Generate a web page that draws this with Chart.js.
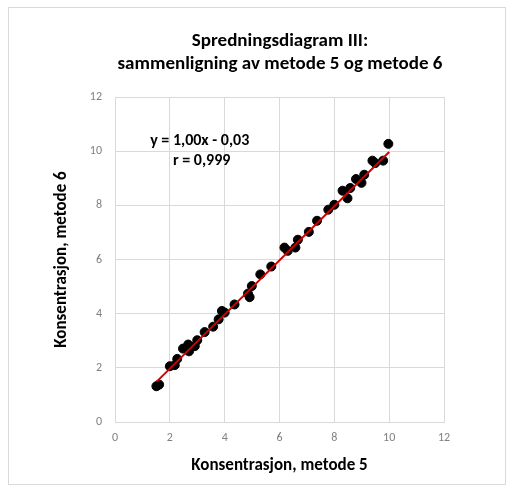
<!DOCTYPE html>
<html>
<head>
<meta charset="utf-8">
<script src="https://cdn.jsdelivr.net/npm/chart.js@4"></script>
<style>
html,body{margin:0;padding:0;background:#fff;}
#wrap{position:relative;width:511px;height:491px;}
#frame{position:absolute;left:8px;top:7px;width:496px;height:476px;border:1px solid #d9d9d9;pointer-events:none;}
</style>
</head>
<body>
<div id="wrap">
<canvas id="c" width="511" height="491"></canvas>
<div id="frame"></div>
</div>
<script>
const titleLines = ["Spredningsdiagram III:", "sammenligning av metode 5 og metode 6"];
const xTitle = "Konsentrasjon, metode 5";
const yTitle = "Konsentrasjon, metode 6";
const eqLines = ["y = 1,00x - 0,03", "r = 0,999"];
const metode5 = [1.51,1.61,2.00,2.18,2.27,2.48,2.67,2.70,2.91,3.00,3.27,3.58,3.78,3.90,4.00,4.36,4.85,4.91,4.99,5.30,5.70,6.18,6.30,6.58,6.67,7.07,7.37,7.78,8.00,8.30,8.48,8.58,8.79,8.99,9.09,9.39,9.49,9.78,9.97];
const metode6 = [1.32,1.38,2.06,2.10,2.33,2.71,2.86,2.61,2.80,3.02,3.32,3.52,3.79,4.10,4.04,4.34,4.74,4.61,5.02,5.45,5.74,6.44,6.32,6.44,6.73,7.02,7.43,7.84,8.02,8.54,8.26,8.64,8.97,8.83,9.13,9.65,9.56,9.65,10.27];
const fitSlope = 1.00, fitIntercept = -0.03;
const fitX = [1.52, 10.0];
const xTicks = [0,2,4,6,8,10,12];
const yTicks = [0,2,4,6,8,10,12];

const points = metode5.map((x,i)=>({x:x,y:metode6[i]}));
const fitLine = fitX.map(x=>({x:x,y:fitSlope*x+fitIntercept}));

const FONT = "Calibri, Carlito, Lato, 'Open Sans', sans-serif";

const textPlugin = {
  id:'textPlugin',
  afterDraw(chart){
    const ctx = chart.ctx;
    ctx.save();
    ctx.fillStyle = '#000';
    ctx.textAlign = 'center';
    ctx.textBaseline = 'middle';
    ctx.font = "bold 19px " + FONT;
    ctx.fillText(titleLines[0], 280, 41);
    ctx.fillText(titleLines[1], 280, 64);
    const xs = chart.scales.x, ys = chart.scales.y;
    ctx.font = "bold 16px " + FONT;
    ctx.fillText(eqLines[0], xs.getPixelForValue(3.09), ys.getPixelForValue(10.38));
    ctx.fillText(eqLines[1], xs.getPixelForValue(3.16), ys.getPixelForValue(9.64));
    ctx.restore();
  }
};

new Chart(document.getElementById('c'), {
  type:'scatter',
  data:{
    datasets:[
      {label:'data', data:points, backgroundColor:'#000', borderColor:'#000', pointRadius:4.5, pointHoverRadius:4.5, order:2},
      {label:'fit', type:'line', data:fitLine, borderColor:'#d00000', borderWidth:2, pointRadius:0, fill:false, order:1}
    ]
  },
  options:{
    responsive:false,
    animation:false,
    events:[],
    layout:{padding:{left:0,top:97,right:67,bottom:0}},
    plugins:{legend:{display:false},tooltip:{enabled:false},title:{display:false}},
    scales:{
      x:{
        type:'linear', min:0, max:12,
        afterBuildTicks(s){ s.ticks = xTicks.map(v=>({value:v})); },
        afterFit(s){ s.height = 69; },
        grid:{color:'#d9d9d9', lineWidth:1, drawTicks:false},
        border:{color:'#d9d9d9'},
        ticks:{color:'#808080', font:{size:12, family:FONT}, padding:9},
        title:{display:true, text:xTitle, color:'#000', font:{size:17, weight:'bold', family:FONT}, padding:{top:0,bottom:15}}
      },
      y:{
        type:'linear', min:0, max:12,
        afterBuildTicks(s){ s.ticks = yTicks.map(v=>({value:v})); },
        afterFit(s){ s.width = 115; },
        grid:{color:'#d9d9d9', lineWidth:1, drawTicks:false},
        border:{color:'#d9d9d9'},
        ticks:{color:'#808080', font:{size:12, family:FONT}, padding:13},
        title:{display:true, text:yTitle, color:'#000', font:{size:17, weight:'bold', family:FONT}, padding:{top:52,bottom:0}}
      }
    }
  },
  plugins:[textPlugin]
});
</script>
</body>
</html>
